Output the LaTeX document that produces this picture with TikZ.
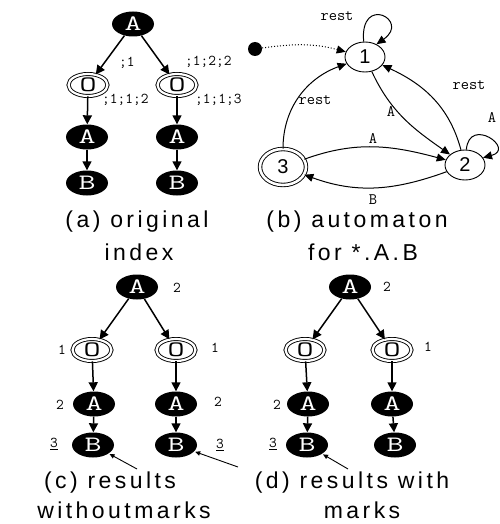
\documentclass[tikz,border=0pt]{standalone}
\usepackage{fontspec}
\setmainfont{Liberation Serif}
\newfontfamily\statefont{Liberation Sans}
\newfontfamily\capfont[LetterSpace=15]{Liberation Sans}
\usetikzlibrary{shapes.geometric,arrows.meta}
\newcommand\wl[1]{\scalebox{1.5}[1]{#1}}
\begin{document}
\begin{tikzpicture}[x=1pt,y=1pt,
  bnode/.style={ellipse, fill=black, text=white, minimum width=42pt, minimum height=25pt, inner sep=0pt, font=\ttfamily\fontsize{22}{22}\selectfont},
  onode/.style={ellipse, draw=black, fill=white, line width=0.9pt, double=white, double distance=2.2pt, minimum width=39pt, minimum height=22pt, inner sep=0pt, font=\ttfamily\fontsize{22}{22}\selectfont},
  state/.style={ellipse, draw=black, line width=0.9pt, minimum width=40pt, minimum height=30pt, inner sep=0pt, font=\statefont\fontsize{20}{20}\selectfont},
  accept/.style={state, double, double distance=2.6pt, minimum width=46pt, minimum height=36pt},
  tedge/.style={-{Triangle[length=9pt,width=9pt]}, line width=1.5pt},
  aedge/.style={-{Triangle[length=9pt,width=8pt]}, line width=1pt},
  pedge/.style={-{Triangle[length=5pt,width=4.5pt]}, line width=0.9pt, shorten >=1pt},
  lab/.style={font=\ttfamily\fontsize{15}{15}\selectfont, inner sep=0pt},
  alab/.style={font=\ttfamily\fontsize{16}{16}\selectfont, inner sep=0pt},
  capstyle/.style={font=\capfont\fontsize{23}{23}\selectfont, inner sep=0pt}
]
\useasboundingbox (0,0) rectangle (499,-524);

% (a) original index
\node[bnode] (a0) at (133,-24) {\wl{A}};
\node[onode] (a1) at (88,-85) {\wl{O}};
\node[onode] (a2) at (177,-85) {\wl{O}};
\node[bnode] (a3) at (87,-137) {\wl{A}};
\node[bnode] (a4) at (177,-137) {\wl{A}};
\node[bnode] (a5) at (87,-183) {\wl{B}};
\node[bnode] (a6) at (177,-183) {\wl{B}};
\draw[tedge] (a0) -- (a1);
\draw[tedge] (a0) -- (a2);
\draw[tedge] (a1) -- (a3);
\draw[tedge] (a2) -- (a4);
\draw[tedge] (a3) -- (a5);
\draw[tedge] (a4) -- (a6);
\node[lab, anchor=west] (la1) at (119,-63) {;1};
\node[lab, anchor=west] (la2) at (185,-62) {;1;2;2};
\node[lab, anchor=west] (la3) at (102,-100) {;1;1;2};
\node[lab, anchor=west] (la4) at (195,-100) {;1;1;3};
\node[capstyle] (capa1) at (137,-222) {(a) original};
\node[capstyle] (capa2) at (139,-252) {index};

% (b) automaton
\node[circle, fill=black, minimum size=14pt, inner sep=0pt] (dot) at (255,-49) {};
\node[state] (s1) at (365,-57) {1};
\node[state] (s2) at (465,-165) {2};
\node[accept] (s3) at (283,-167) {3};
\draw[aedge, dotted] (dot) to[out=8, in=165] (s1);
\draw[aedge] (s1.95) .. controls +(95:48) and +(35:42) .. (s1.48);
\draw[aedge] (s1) to[out=-65, in=145] (s2);
\draw[aedge] (s2) to[out=105, in=-25] (s1);
\draw[aedge] (s2.85) .. controls +(85:34) and +(15:34) .. (s2.22);
\draw[aedge] (s3) to[out=20, in=165] (s2);
\draw[aedge] (s2) to[out=-160, in=-20] (s3);
\draw[aedge] (s3) to[out=90, in=200] (s1);
\node[alab] (lb1) at (337,-16) {rest};
\node[alab] (lb2) at (391,-112) {A};
\node[alab] (lb3) at (469,-85) {rest};
\node[alab] (lb4) at (492,-117) {A};
\node[alab] (lb5) at (373,-138) {A};
\node[alab] (lb6) at (373,-200) {B};
\node[alab] (lb7) at (315,-100) {rest};
\node[capstyle] (capb1) at (357,-222) {(b) automaton};
\node[capstyle] (capb2) at (363,-252) {for *.A.B};

% (c) results without marks
\node[bnode] (c0) at (137,-287) {\wl{A}};
\node[onode] (c1) at (92,-350) {\wl{O}};
\node[onode] (c2) at (176,-350) {\wl{O}};
\node[bnode] (c3) at (94,-404) {\wl{A}};
\node[bnode] (c4) at (176,-404) {\wl{A}};
\node[bnode] (c5) at (93,-445) {\wl{B}};
\node[bnode] (c6) at (176,-445) {\wl{B}};
\draw[tedge] (c0) -- (c1);
\draw[tedge] (c0) -- (c2);
\draw[tedge] (c1) -- (c3);
\draw[tedge] (c2) -- (c4);
\draw[tedge] (c3) -- (c5);
\draw[tedge] (c4) -- (c6);
\node[lab] (lc0) at (177,-288) {2};
\node[lab] (lc1) at (62,-350) {1};
\node[lab] (lc2) at (215,-348) {1};
\node[lab] (lc3) at (60,-405) {2};
\node[lab] (lc4) at (218,-402) {2};
\node[lab] (lc5) at (54,-444) {\underline{3}};
\node[lab] (lc6) at (220,-445) {\underline{3}};
\coordinate (pc1) at (137,-469);
\coordinate (pc2) at (238,-467);
\draw[pedge] (pc1) -- (c5);
\draw[pedge] (pc2) -- (c6);
\node[capstyle] (capc1) at (110,-483) {(c) results};
\node[capstyle] (capc2) at (124,-510) {withoutmarks};

% (d) results with marks
\node[bnode] (d0) at (350,-287) {\wl{A}};
\node[onode] (d1) at (305,-350) {\wl{O}};
\node[onode] (d2) at (392,-350) {\wl{O}};
\node[bnode] (d3) at (308,-404) {\wl{A}};
\node[bnode] (d4) at (392,-404) {\wl{A}};
\node[bnode] (d5) at (307,-445) {\wl{B}};
\node[bnode] (d6) at (395,-445) {\wl{B}};
\draw[tedge] (d0) -- (d1);
\draw[tedge] (d0) -- (d2);
\draw[tedge] (d1) -- (d3);
\draw[tedge] (d2) -- (d4);
\draw[tedge] (d3) -- (d5);
\draw[tedge] (d4) -- (d6);
\node[lab] (ld0) at (387,-287) {2};
\node[lab] (ld2) at (428,-347) {1};
\node[lab] (ld3) at (277,-405) {2};
\node[lab] (ld5) at (273,-444) {\underline{3}};
\coordinate (pd1) at (348,-469);
\draw[pedge] (pd1) -- (d5);
\node[capstyle] (capd1) at (352,-483) {(d) results with};
\node[capstyle] (capd2) at (362,-510) {marks};
\end{tikzpicture}
\end{document}
